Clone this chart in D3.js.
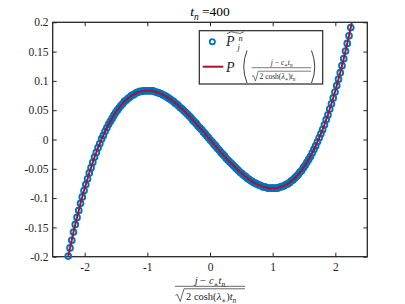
<!DOCTYPE html>
<html>
<head>
<meta charset="utf-8">
<script src="https://cdn.jsdelivr.net/npm/d3@7"></script>
<style>
  body { margin: 0; background: #fff; }
  text { font-family: "Liberation Serif", "DejaVu Serif", serif; fill: #262626; }
</style>
</head>
<body>
<svg id="chart" width="405" height="304"></svg>
<script>
// tick values
const xTicks = [-2, -1, 0, 1, 2];
const yTicks = [-0.2, -0.15, -0.1, -0.05, 0, 0.05, 0.1, 0.15, 0.2];

// scaled lattice position (j - c t_n)/sqrt(2 cosh(lambda) t_n)
const jX = [
  -2.262, -2.234, -2.206, -2.178, -2.150, -2.122, -2.094, -2.066, -2.038, -2.010,
  -1.982, -1.954, -1.926, -1.898, -1.870, -1.842, -1.814, -1.786, -1.758, -1.730,
  -1.702, -1.674, -1.646, -1.618, -1.590, -1.562, -1.534, -1.506, -1.478, -1.450,
  -1.422, -1.394, -1.366, -1.338, -1.310, -1.282, -1.254, -1.226, -1.198, -1.170,
  -1.142, -1.114, -1.086, -1.058, -1.030, -1.002, -0.974, -0.946, -0.918, -0.890,
  -0.862, -0.834, -0.806, -0.778, -0.750, -0.722, -0.694, -0.666, -0.638, -0.610,
  -0.582, -0.554, -0.526, -0.498, -0.470, -0.442, -0.414, -0.386, -0.358, -0.330,
  -0.302, -0.274, -0.246, -0.218, -0.190, -0.162, -0.134, -0.106, -0.078, -0.050,
  -0.022,
  0.006, 0.034, 0.062, 0.090, 0.118, 0.146, 0.174, 0.202, 0.230, 0.258,
  0.286, 0.314, 0.342, 0.370, 0.398, 0.426, 0.454, 0.482, 0.510, 0.538,
  0.566, 0.594, 0.622, 0.650, 0.678, 0.706, 0.734, 0.762, 0.790, 0.818,
  0.846, 0.874, 0.902, 0.930, 0.958, 0.986, 1.014, 1.042, 1.070, 1.098,
  1.126, 1.154, 1.182, 1.210, 1.238, 1.266, 1.294, 1.322, 1.350, 1.378,
  1.406, 1.434, 1.462, 1.490, 1.518, 1.546, 1.574, 1.602, 1.630, 1.658,
  1.686, 1.714, 1.742, 1.770, 1.798, 1.826, 1.854, 1.882, 1.910, 1.938,
  1.966, 1.994, 2.022, 2.050, 2.078, 2.106, 2.134, 2.162, 2.190, 2.218,
  2.246
];

// discrete profile P~_j^n at t_n = 400
const pDiscrete = [
  -0.199, -0.185, -0.172, -0.158, -0.145, -0.133, -0.121, -0.109, -0.098, -0.087,
  -0.077, -0.067, -0.057, -0.048, -0.039, -0.030, -0.022, -0.014, -0.007, 0.001,
  0.007, 0.014, 0.020, 0.026, 0.031, 0.036, 0.041, 0.046, 0.050, 0.054,
  0.058, 0.061, 0.065, 0.067, 0.070, 0.072, 0.075, 0.076, 0.078, 0.080,
  0.081, 0.082, 0.082, 0.083, 0.083, 0.083, 0.083, 0.083, 0.083, 0.082,
  0.081, 0.080, 0.079, 0.078, 0.076, 0.075, 0.073, 0.071, 0.069, 0.067,
  0.065, 0.062, 0.060, 0.057, 0.054, 0.052, 0.049, 0.046, 0.043, 0.040,
  0.037, 0.033, 0.030, 0.027, 0.023, 0.020, 0.017, 0.013, 0.010, 0.006,
  0.003,
  -0.001, -0.004, -0.008, -0.011, -0.015, -0.018, -0.022, -0.025, -0.028, -0.032,
  -0.035, -0.038, -0.041, -0.044, -0.047, -0.050, -0.053, -0.056, -0.058, -0.061,
  -0.063, -0.066, -0.068, -0.070, -0.072, -0.074, -0.075, -0.077, -0.078, -0.079,
  -0.081, -0.081, -0.082, -0.083, -0.083, -0.083, -0.083, -0.083, -0.083, -0.082,
  -0.081, -0.080, -0.079, -0.077, -0.076, -0.074, -0.071, -0.069, -0.066, -0.063,
  -0.060, -0.056, -0.053, -0.048, -0.044, -0.039, -0.034, -0.029, -0.023, -0.017,
  -0.011, -0.004, 0.003, 0.010, 0.017, 0.025, 0.034, 0.042, 0.052, 0.061,
  0.071, 0.081, 0.092, 0.103, 0.114, 0.126, 0.138, 0.151, 0.164, 0.177,
  0.191
];

// continuous profile runs a bit past the last lattice points (clipped by the axes)
const lineEndX = [-2.3, 2.3];
const lineEndY = [-0.2195, 0.2195];

const tn = 400;

const blue = "#0072BD";
const red = "#A2142F";
const ink = "#262626";

const svg = d3.select("#chart");
const m = { left: 52.7, right: 367.3, top: 22.3, bottom: 256.7 };

const x = d3.scaleLinear().domain([-2.51, 2.51]).range([m.left, m.right]);
const y = d3.scaleLinear().domain([-0.2, 0.2]).range([m.bottom, m.top]);

// small helper for text with sub/superscripts
function mathText(g, px, py, parts, size, anchor) {
  const t = g.append("text")
    .attr("x", px).attr("y", py)
    .attr("font-size", size)
    .attr("text-anchor", anchor || "start");
  let shift = 0;
  parts.forEach((p) => {
    const target = p.sub ? size * 0.3 : p.sup ? -size * 0.42 : 0;
    t.append("tspan")
      .attr("dy", target - shift)
      .attr("font-size", p.sub || p.sup ? size * 0.7 : size)
      .attr("font-style", p.i ? "italic" : "normal")
      .text(p.t);
    shift = target;
  });
  return t;
}

svg.append("defs").append("clipPath").attr("id", "plotClip")
  .append("rect")
  .attr("x", m.left).attr("y", m.top)
  .attr("width", m.right - m.left).attr("height", m.bottom - m.top);

// axes, ticks pointing in on all four sides
const fmt = (d) => String(d);
const gx = svg.append("g").attr("transform", `translate(0,${m.bottom})`)
  .call(d3.axisBottom(x).tickValues(xTicks).tickFormat(fmt).tickSizeInner(-4).tickSizeOuter(0).tickPadding(6));
const gy = svg.append("g").attr("transform", `translate(${m.left},0)`)
  .call(d3.axisLeft(y).tickValues(yTicks).tickFormat(fmt).tickSizeInner(-4).tickSizeOuter(0).tickPadding(4.2));
const gt = svg.append("g").attr("transform", `translate(0,${m.top})`)
  .call(d3.axisTop(x).tickValues(xTicks).tickFormat("").tickSizeInner(-4).tickSizeOuter(0));
const gr = svg.append("g").attr("transform", `translate(${m.right},0)`)
  .call(d3.axisRight(y).tickValues(yTicks).tickFormat("").tickSizeInner(-4).tickSizeOuter(0));

[gx, gy, gt, gr].forEach((g) => {
  g.select(".domain").remove();
  g.selectAll("line").attr("stroke", ink).attr("stroke-width", 1);
  g.selectAll("text").attr("font-size", 11.5).attr("fill", ink)
    .style("font-family", '"Liberation Serif", serif');
});

svg.append("rect")
  .attr("x", m.left).attr("y", m.top)
  .attr("width", m.right - m.left).attr("height", m.bottom - m.top)
  .attr("fill", "none").attr("stroke", ink).attr("stroke-width", 1.3);

// markers: discrete solution
const pts = jX.map((v, i) => ({ x: v, p: pDiscrete[i] }))
  .filter((d) => d.p >= -0.2 && d.p <= 0.2);

svg.append("g").selectAll("circle")
  .data(pts)
  .join("circle")
  .attr("cx", (d) => x(d.x))
  .attr("cy", (d) => y(d.p))
  .attr("r", 2.9)
  .attr("fill", "none")
  .attr("stroke", blue)
  .attr("stroke-width", 1.9);

// line: continuous profile
const linePts = [{ x: lineEndX[0], p: lineEndY[0] }]
  .concat(jX.map((v, i) => ({ x: v, p: pDiscrete[i] })))
  .concat([{ x: lineEndX[1], p: lineEndY[1] }]);

svg.append("path")
  .datum(linePts)
  .attr("clip-path", "url(#plotClip)")
  .attr("fill", "none")
  .attr("stroke", red)
  .attr("stroke-width", 2)
  .attr("d", d3.line().x((d) => x(d.x)).y((d) => y(d.p)).curve(d3.curveCatmullRom));

// title
mathText(svg, 210, 15.5, [
  { t: "t", i: true }, { t: "n", i: true, sub: true }, { t: " =" + tn }
], 13.5, "middle").selectAll("tspan").style("fill", "#000");

// x label: fraction
const xl = svg.append("g");
mathText(xl, 210, 283.5, [
  { t: "j", i: true }, { t: " \u2212 " }, { t: "c", i: true }, { t: "\u2217", sub: true },
  { t: "t", i: true }, { t: "n", i: true, sub: true }
], 10.5, "middle");
xl.append("line").attr("x1", 175).attr("x2", 245).attr("y1", 286.3).attr("y2", 286.3)
  .attr("stroke", ink).attr("stroke-width", 0.7);
xl.append("path").attr("d", "M175.5,295.5 L177.3,294.3 L180.2,301.5 L184,288.8 L245,288.8")
  .attr("fill", "none").attr("stroke", ink).attr("stroke-width", 0.7);
mathText(xl, 186, 299.5, [
  { t: "2 cosh(" }, { t: "\u03bb", i: true }, { t: "\u2217", sub: true }, { t: ")" },
  { t: "t", i: true }, { t: "n", i: true, sub: true }
], 10.5, "start");

// legend
const lg = svg.append("g");
lg.append("rect")
  .attr("x", 199.3).attr("y", 30.7).attr("width", 123.4).attr("height", 53.3)
  .attr("fill", "#fff").attr("stroke", ink).attr("stroke-width", 1.2);

lg.append("circle").attr("cx", 212.3).attr("cy", 41.7).attr("r", 2.6)
  .attr("fill", "none").attr("stroke", blue).attr("stroke-width", 1.8);
mathText(lg, 226, 46, [{ t: "P", i: true }], 14, "start");
lg.append("path").attr("d", "M227,33.6 Q231,30.4 235.5,32.6 T244,31.8")
  .attr("fill", "none").attr("stroke", ink).attr("stroke-width", 0.7);
mathText(lg, 238.5, 40.6, [{ t: "n", i: true }], 8.5, "start");
mathText(lg, 237.5, 49.6, [{ t: "j", i: true }], 8.5, "start");

lg.append("line").attr("x1", 202.7).attr("x2", 223.3).attr("y1", 66.7).attr("y2", 66.7)
  .attr("stroke", red).attr("stroke-width", 2);
mathText(lg, 226, 71.5, [{ t: "P", i: true }], 14, "start");
lg.append("path").attr("d", "M247,50.5 Q240.5,67 247,83")
  .attr("fill", "none").attr("stroke", ink).attr("stroke-width", 0.9);
lg.append("path").attr("d", "M311.5,50.5 Q318,67 311.5,83")
  .attr("fill", "none").attr("stroke", ink).attr("stroke-width", 0.9);
mathText(lg, 281.7, 64.5, [
  { t: "j", i: true }, { t: " \u2212 " }, { t: "c", i: true }, { t: "\u2217", sub: true },
  { t: "t", i: true }, { t: "n", i: true, sub: true }
], 7.5, "middle");
lg.append("line").attr("x1", 251.7).attr("x2", 311).attr("y1", 67.7).attr("y2", 67.7)
  .attr("stroke", ink).attr("stroke-width", 0.6);
lg.append("path").attr("d", "M252,76.5 L253.4,75.6 L255.5,81 L258.3,71.2 L311,71.2")
  .attr("fill", "none").attr("stroke", ink).attr("stroke-width", 0.6);
mathText(lg, 259.5, 79, [
  { t: "2 cosh(" }, { t: "\u03bb", i: true }, { t: "\u2217", sub: true }, { t: ")" },
  { t: "t", i: true }, { t: "n", i: true, sub: true }
], 7.5, "start");
</script>
</body>
</html>
